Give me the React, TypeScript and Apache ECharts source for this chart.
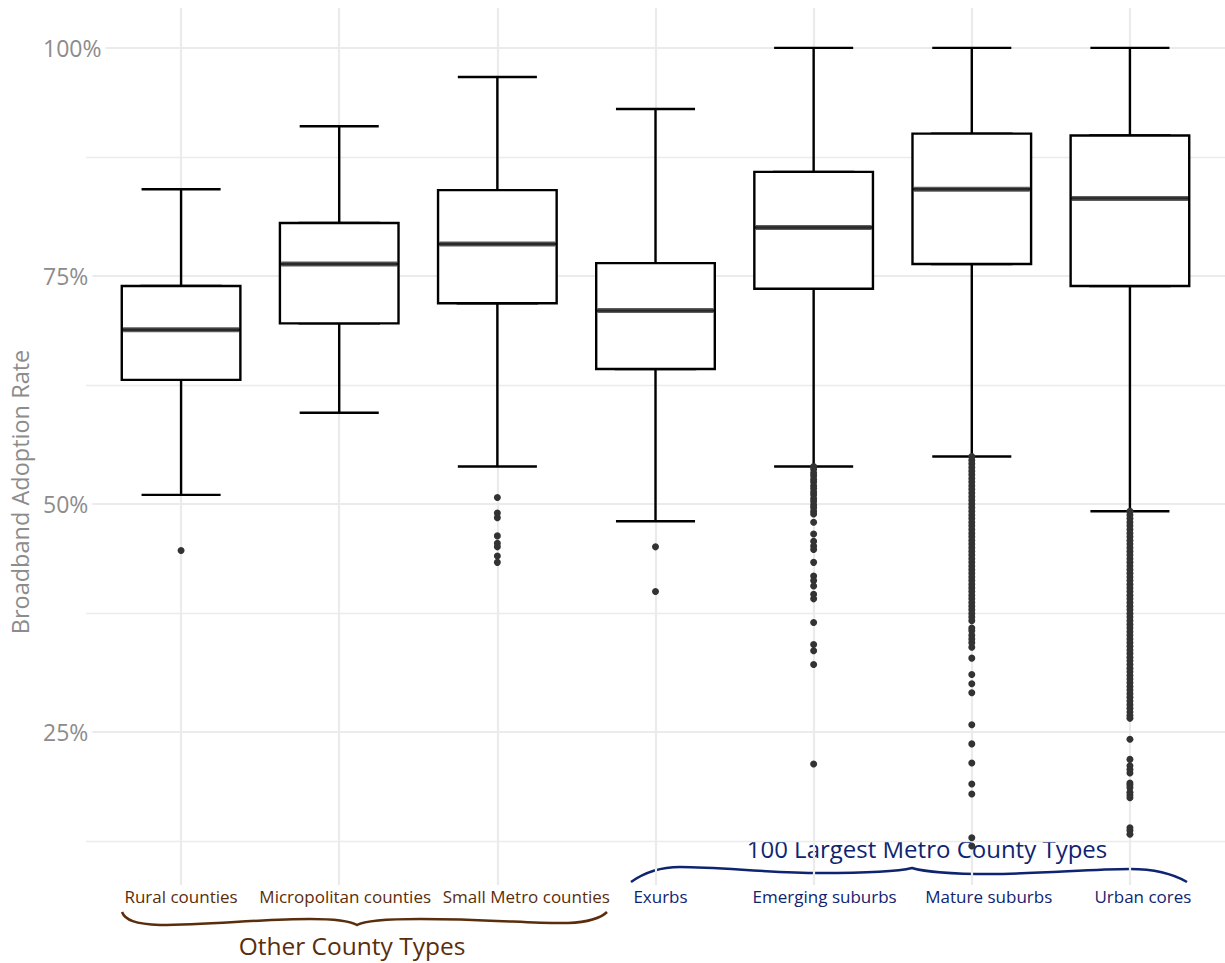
import React, { useEffect, useRef } from "react";
import * as echarts from "echarts";

const categories = [
  "Rural counties",
  "Micropolitan counties",
  "Small Metro counties",
  "Exurbs",
  "Emerging suburbs",
  "Mature suburbs",
  "Urban cores",
];
const whiskerLow = [0.510, 0.600, 0.541, 0.481, 0.541, 0.552, 0.492];
const q1 = [0.636, 0.698, 0.720, 0.648, 0.736, 0.763, 0.739];
const median = [0.691, 0.763, 0.785, 0.712, 0.803, 0.845, 0.835];
const q3 = [0.739, 0.808, 0.844, 0.764, 0.864, 0.906, 0.904];
const whiskerHigh = [0.845, 0.914, 0.968, 0.933, 1.0, 1.0, 1.0];

const outliersRural = [0.449];
const outliersMicro: number[] = [];
const outliersSmallMetro = [0.507, 0.490, 0.485, 0.465, 0.457, 0.453, 0.443, 0.436];
const outliersExurbs = [0.453, 0.404];
const outliersEmerging = [
  0.541, 0.538, 0.534, 0.531, 0.527, 0.524, 0.520, 0.517, 0.513, 0.510, 0.506,
  0.503, 0.499, 0.496, 0.492, 0.489, 0.480, 0.467, 0.459, 0.454, 0.450, 0.436,
  0.421, 0.416, 0.410, 0.401, 0.396, 0.370, 0.346, 0.339, 0.324, 0.215,
];
const outliersMature = [
  0.552, 0.548, 0.544, 0.540, 0.536, 0.532, 0.528, 0.524, 0.520, 0.516, 0.512,
  0.508, 0.504, 0.500, 0.496, 0.492, 0.488, 0.484, 0.480, 0.476, 0.472, 0.468,
  0.464, 0.460, 0.456, 0.452, 0.448, 0.444, 0.440, 0.436, 0.432, 0.428, 0.424,
  0.420, 0.416, 0.412, 0.408, 0.404, 0.400, 0.396, 0.392, 0.388, 0.384, 0.380,
  0.376, 0.372, 0.364, 0.361, 0.356, 0.352, 0.348, 0.343, 0.331, 0.313, 0.303,
  0.293, 0.258, 0.237, 0.216, 0.193, 0.182, 0.134, 0.125,
];
const outliersUrban = [
  0.492, 0.488, 0.484, 0.480, 0.476, 0.472, 0.468, 0.464, 0.460, 0.456, 0.452,
  0.448, 0.444, 0.440, 0.436, 0.432, 0.428, 0.424, 0.420, 0.416, 0.412, 0.408,
  0.404, 0.400, 0.396, 0.392, 0.388, 0.384, 0.380, 0.376, 0.372, 0.368, 0.364,
  0.360, 0.356, 0.352, 0.348, 0.344, 0.340, 0.336, 0.332, 0.328, 0.324, 0.320,
  0.316, 0.312, 0.308, 0.304, 0.300, 0.296, 0.292, 0.288, 0.284, 0.280, 0.276,
  0.272, 0.268, 0.265, 0.242, 0.220, 0.213, 0.209, 0.205, 0.194, 0.192, 0.189,
  0.184, 0.181, 0.178, 0.145, 0.142, 0.138,
];
const outliers = [
  outliersRural,
  outliersMicro,
  outliersSmallMetro,
  outliersExurbs,
  outliersEmerging,
  outliersMature,
  outliersUrban,
];

const yTicks = [0.25, 0.5, 0.75, 1.0];
const yMinorTicks = [0.125, 0.375, 0.625, 0.875];
const xGridPositions = [1, 2, 3, 4, 5, 6, 7];
const Y_MIN = 0.0823;
const Y_MAX = 1.0437;

const groupOther = "Other County Types";
const groupMetro = "100 Largest Metro County Types";
const yTitle = "Broadband Adoption Rate";

const BROWN = "#5a2d0c";
const NAVY = "#0f2470";
const GRID = "#ebebeb";
const AXIS_TEXT = "#8c8c8c";
const FONT = "Open Sans";

const labelColors = [BROWN, BROWN, BROWN, NAVY, NAVY, NAVY, NAVY];
const labelShift = [0, 6, 29, 5, 11, 17, 13];

const BRACE_BROWN =
  "M122,912 C125,920 135,924 160,925 C210,925 260,919 310,919 C335,919 350,921 357,925 C364,921 380,919 420,919 C490,919 535,924 568,923 C590,922 602,917 607,912";
const BRACE_NAVY =
  "M631,882 C645,872 660,867 680,867 C720,867 770,873 820,873 C870,873 900,871 912,868 C922,871 950,874 990,874 C1040,874 1090,869 1130,869 C1155,869 1175,875 1187,882";

let registered = false;
function registerShapes() {
  if (registered) return;
  registered = true;
  echarts.graphic.registerShape("braceBrown", echarts.graphic.extendPath(BRACE_BROWN, {}));
  echarts.graphic.registerShape("braceNavy", echarts.graphic.extendPath(BRACE_NAVY, {}));
}

export default function App() {
  const ref = useRef<HTMLDivElement>(null);

  useEffect(() => {
    document.body.style.margin = "0";
    registerShapes();
    const chart = echarts.init(ref.current!, null, { renderer: "svg" });

    const rich: Record<string, any> = {};
    labelColors.forEach((c, i) => {
      rich["c" + i] = {
        color: c,
        fontSize: 17,
        fontFamily: FONT,
        padding: [0, 0, 0, labelShift[i] * 2],
      };
    });

    const boxStyle = { color: "#ffffff", borderColor: "#000000", borderWidth: 2.4 };

    const option: any = {
      animation: false,
      grid: [
        { left: 102, right: 16, top: 8, bottom: 78 },
        { left: 86, right: 0, top: 8, bottom: 78 },
      ],
      xAxis: [
        {
          type: "category",
          gridIndex: 0,
          data: categories,
          axisLine: { show: false },
          axisTick: { show: false },
          splitLine: { show: false },
          axisLabel: {
            interval: 0,
            margin: 3,
            fontSize: 17,
            fontFamily: FONT,
            formatter: (v: string, i: number) => `{c${i}|${v}}`,
            rich,
          },
        },
        { type: "category", gridIndex: 0, data: categories, show: false },
        { type: "value", gridIndex: 1, min: 0.4, max: 7.6, show: false },
      ],
      yAxis: [
        {
          type: "value",
          gridIndex: 0,
          min: Y_MIN,
          max: Y_MAX,
          z: 5,
          splitLine: { show: false },
          axisLine: { show: false },
          axisTick: { show: false },
          axisLabel: {
            customValues: yTicks,
            formatter: (v: number) => Math.round(v * 100) + "%",
            align: "left",
            margin: 59,
            color: AXIS_TEXT,
            fontSize: 23,
            fontFamily: FONT,
            backgroundColor: "#ffffff",
            padding: [0, 4, 0, 0],
          },
        },
        { type: "value", gridIndex: 1, min: Y_MIN, max: Y_MAX, show: false },
      ],
      series: [
        {
          type: "scatter",
          xAxisIndex: 2,
          yAxisIndex: 1,
          data: [],
          silent: true,
          z: 1,
          markLine: {
            silent: true,
            z: 1,
            symbol: ["none", "none"],
            label: { show: false },
            emphasis: { disabled: true },
            animation: false,
            data: [
              ...yMinorTicks.map((v) => ({ yAxis: v, lineStyle: { color: GRID, width: 1.3, type: "solid" } })),
              ...yTicks.map((v) => ({ yAxis: v, lineStyle: { color: GRID, width: 2, type: "solid" } })),
              ...xGridPositions.map((v) => ({ xAxis: v, lineStyle: { color: GRID, width: 2.2, type: "solid" } })),
            ],
          },
        },
        {
          type: "boxplot",
          xAxisIndex: 1,
          yAxisIndex: 0,
          z: 3,
          silent: true,
          boxWidth: ["50%", "50%"],
          itemStyle: boxStyle,
          data: categories.map((_, i) => [whiskerLow[i], q1[i], median[i], q3[i], whiskerHigh[i]]),
        },
        {
          type: "boxplot",
          xAxisIndex: 0,
          yAxisIndex: 0,
          z: 4,
          silent: true,
          boxWidth: ["75%", "75%"],
          itemStyle: boxStyle,
          data: categories.map((_, i) => [q1[i], q1[i], median[i], q3[i], q3[i]]),
        },
        {
          type: "scatter",
          xAxisIndex: 0,
          yAxisIndex: 0,
          z: 5,
          silent: true,
          symbol: "rect",
          symbolSize: [116, 5],
          itemStyle: { color: "#333333" },
          data: median.map((m, i) => [i, m]),
        },
        {
          type: "scatter",
          xAxisIndex: 0,
          yAxisIndex: 0,
          z: 6,
          silent: true,
          symbolSize: 7,
          itemStyle: { color: "#333333", opacity: 1 },
          data: outliers.flatMap((vals, i) => vals.map((v) => [i, v])),
        },
      ],
      graphic: [
        {
          type: "text",
          x: 20,
          y: 492,
          rotation: Math.PI / 2,
          silent: true,
          style: {
            text: yTitle,
            fill: AXIS_TEXT,
            fontSize: 23.5,
            fontFamily: FONT,
            align: "center",
            verticalAlign: "middle",
          },
        },
        {
          type: "braceBrown",
          x: 0,
          y: 0,
          silent: true,
          shape: {},
          style: { fill: "none", stroke: BROWN, lineWidth: 2.5 },
        },
        {
          type: "braceNavy",
          x: 0,
          y: 0,
          silent: true,
          shape: {},
          style: { fill: "none", stroke: NAVY, lineWidth: 2.5 },
        },
        {
          type: "text",
          x: 352,
          y: 945,
          silent: true,
          style: {
            text: groupOther,
            fill: BROWN,
            fontSize: 24.5,
            fontFamily: FONT,
            align: "center",
            verticalAlign: "middle",
          },
        },
        {
          type: "text",
          x: 927,
          y: 848,
          silent: true,
          style: {
            text: groupMetro,
            fill: NAVY,
            fontSize: 24,
            fontFamily: FONT,
            align: "center",
            verticalAlign: "middle",
          },
        },
      ],
    };

    chart.setOption(option);
    return () => {
      chart.dispose();
    };
  }, []);

  return <div ref={ref} style={{ width: 1225, height: 963 }} />;
}
